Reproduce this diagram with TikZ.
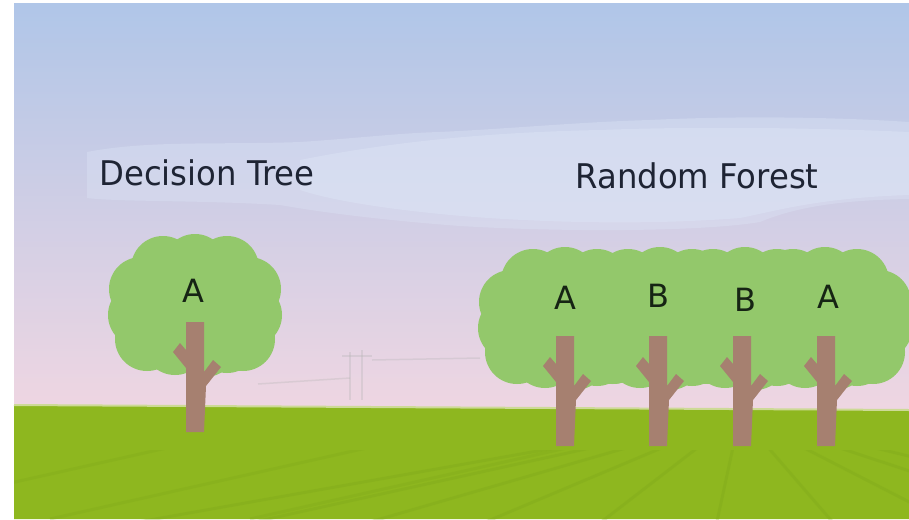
\documentclass[tikz,border=0pt]{standalone}
\usepackage{fontspec}
\setmainfont{DejaVu Sans}
\definecolor{skytop}{RGB}{176,198,232}
\definecolor{skymid}{RGB}{206,212,236}
\definecolor{skylow}{RGB}{239,214,226}
\definecolor{cloudcol}{RGB}{220,228,245}
\definecolor{leaf}{RGB}{147,200,107}
\definecolor{bark}{RGB}{166,128,112}
\definecolor{grass}{RGB}{142,183,31}
\definecolor{grassdark}{RGB}{118,160,22}
\definecolor{horizon}{RGB}{205,218,150}
\definecolor{inktitle}{RGB}{30,36,52}
\definecolor{inkleaf}{RGB}{22,36,20}
\tikzset{
  titletext/.style={font=\fontsize{34}{40}\selectfont, text=inktitle, xscale=0.95, inner sep=0pt},
  leaftext/.style={font=\fontsize{32}{38}\selectfont, text=inkleaf, inner sep=0pt},
  leafcol/.style={fill=leaf},
  barkcol/.style={fill=bark},
}
% crown: a rounded block with soft lobes along its rim
\newcommand\treecrown[2]{%
  \begin{scope}[shift={(#1,#2)}]
    \fill[leafcol, rounded corners=40pt] (-76,-54) rectangle (76,60);
    \foreach \p in {(-32,-37),(0,-39),(32,-37),
                    (-54,-16),(-55,10),(-48,34),
                    (54,-16),(55,10),(48,34),
                    (-20,38),(10,40),(32,36)}{\fill[leafcol] \p circle (32pt);}
  \end{scope}
}
% trunk with two cut branches; (#1,#2) is the top of the trunk
\newcommand\treetrunk[2]{%
  \fill[barkcol, shift={(#1,#2)}]
    (-9,0) -- (9,0) -- (9,50) -- (18,38) -- (26,45) -- (11,64) -- (9,110)
    -- (-9,110) -- (-9,46) -- (-22,30) -- (-15,21) -- (-9,28) -- cycle;
}
\begin{document}
\begin{tikzpicture}[x=1pt,y=-1pt]
\useasboundingbox (0,0) rectangle (909,519);
\fill[white] (0,0) rectangle (909,519);
% sky
\shade[top color=skytop, middle color=skymid, bottom color=skylow] (14,4) rectangle (909,412);
% cloud band, soft
\fill[cloudcol, opacity=0.4]
  (87,152) .. controls (150,140) and (220,145) .. (300,142)
  .. controls (360,138) and (400,133) .. (440,132)
  .. controls (520,128) and (580,122) .. (650,120)
  .. controls (750,115) and (850,118) .. (909,122)
  -- (909,199) .. controls (850,200) and (800,205) .. (760,222)
  .. controls (700,232) and (560,232) .. (460,226)
  .. controls (380,220) and (320,212) .. (280,205)
  .. controls (200,200) and (120,202) .. (87,198) -- cycle;
\fill[cloudcol, opacity=0.5]
  (300,160) .. controls (400,140) and (500,132) .. (600,130)
  .. controls (700,126) and (820,128) .. (909,132)
  -- (909,195) .. controls (820,198) and (780,210) .. (740,218)
  .. controls (640,226) and (520,222) .. (440,214)
  .. controls (380,208) and (330,200) .. (300,190) -- cycle;
% faint far-away poles and wires
\begin{scope}[draw=black!30, opacity=0.3, line width=1.5pt]
  \draw (350,352) -- (350,400);
  \draw (362,350) -- (362,400);
  \draw (342,356) -- (372,356);
  \draw (372,360) -- (480,358);
  \draw (258,384) -- (350,378);
\end{scope}
% ground
\fill[grass] (14,405) -- (909,410) -- (909,519) -- (14,519) -- cycle;
\begin{scope}
  \clip (14,450) rectangle (909,519);
  \foreach \bx in {-300,-100,...,1900}{
    \draw[grassdark, opacity=0.22, line width=3pt] (740,415) -- (\bx,600);
  }
  \foreach \bx in {-150,50,250}{
    \draw[grassdark, opacity=0.2, line width=3pt] (\bx,519) -- (\bx+330,445);
  }
\end{scope}
\draw[horizon, line width=2pt] (14,405) -- (909,410);
% single tree
\treecrown{195}{305}
\treetrunk{195}{322}
% forest
\treecrown{565}{318}
\treecrown{660}{318}
\treecrown{745}{318}
\treecrown{825}{318}
\treetrunk{565}{336}
\treetrunk{658}{336}
\treetrunk{742}{336}
\treetrunk{826}{336}
% labels
\node[titletext] (dtitle) at (207,173) {Decision Tree};
\node[titletext] (rtitle) at (697,176) {Random Forest};
\node[leaftext] (la) at (193,291) {A};
\node[leaftext] (f1) at (565,298) {A};
\node[leaftext] (f2) at (658,296) {B};
\node[leaftext] (f3) at (745,300) {B};
\node[leaftext] (f4) at (828,297) {A};
\end{tikzpicture}
\end{document}
